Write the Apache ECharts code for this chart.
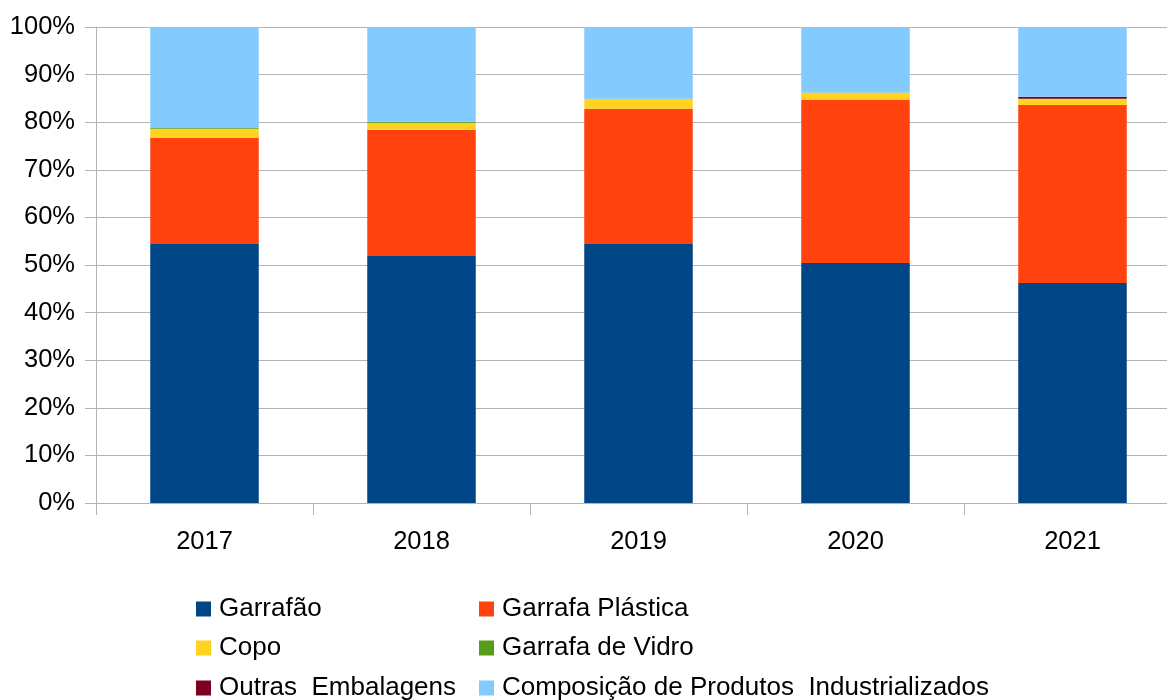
<!DOCTYPE html>
<html>
<head>
<meta charset="utf-8">
<script src="https://cdn.jsdelivr.net/npm/echarts@6/dist/echarts.min.js"></script>
<style>
  html, body { margin: 0; padding: 0; background: #fff; }
  #root { width: 1167px; height: 700px; }
</style>
</head>
<body>
<div id="root"></div>
<script>
const years = ['2017', '2018', '2019', '2020', '2021']

// shares in %
const garrafao = [54.4, 51.9, 54.4, 50.4, 46.2]
const garrafaPlastica = [22.3, 26.5, 28.4, 34.3, 37.4]
const copo = [1.9, 1.5, 2.1, 1.5, 1.3]
const garrafaVidro = [0.2, 0.2, 0.05, 0.05, 0.05]
const outras = [0.0, 0.0, 0.0, 0.0, 0.4]
const produtos = [21.2, 19.9, 15.05, 13.75, 14.65]

const names = ['Garrafão', 'Garrafa Plástica', 'Copo', 'Garrafa de Vidro', 'Outras  Embalagens', 'Composição de Produtos  Industrializados']
const values = [garrafao, garrafaPlastica, copo, garrafaVidro, outras, produtos]
const colors = ['#004586', '#ff420e', '#ffd320', '#579d1c', '#7e0021', '#83caff']

const font = 'Liberation Sans, Arial, sans-serif'
const dom = document.getElementById('root')
const myChart = echarts.init(dom)

const series = names.map((name, i) => ({
  name,
  type: 'bar',
  stack: 'total',
  barWidth: '50%',
  itemStyle: { color: colors[i] },
  emphasis: { disabled: true },
  data: values[i]
}))

// one legend per entry, laid out as two columns x three rows
const legendLeft = [196, 479]
const legendTop = [596, 635, 675]
const legends = names.map((name, i) => ({
  data: [name],
  left: legendLeft[i % 2],
  top: legendTop[Math.floor(i / 2)],
  padding: 0,
  itemWidth: 15,
  itemHeight: 15,
  icon: 'rect',
  selectedMode: false,
  textStyle: { fontFamily: font, fontSize: 26, color: '#000', padding: [0, 0, 0, 3] }
}))

const option = {
  animation: false,
  backgroundColor: '#fff',
  textStyle: { fontFamily: font },
  grid: { left: 96, width: 1085, top: 27, height: 476, containLabel: false, outerBoundsMode: 'none' },
  legend: legends,
  xAxis: {
    type: 'category',
    data: years,
    axisLine: { lineStyle: { color: '#b3b3b3', width: 1 } },
    axisTick: { show: true, length: 12, lineStyle: { color: '#b3b3b3' } },
    axisLabel: { fontFamily: font, fontSize: 25.5, color: '#000', margin: 26 }
  },
  yAxis: {
    type: 'value',
    min: 0,
    max: 100,
    interval: 10,
    axisLine: { show: true, lineStyle: { color: '#b3b3b3', width: 1 } },
    axisTick: { show: true, length: 11, lineStyle: { color: '#b3b3b3' } },
    splitLine: { lineStyle: { color: '#b3b3b3', width: 1 } },
    axisLabel: { fontFamily: font, fontSize: 25.5, color: '#000', margin: 21, formatter: '{value}%' }
  },
  series
}

myChart.setOption(option, true)
</script>
</body>
</html>
